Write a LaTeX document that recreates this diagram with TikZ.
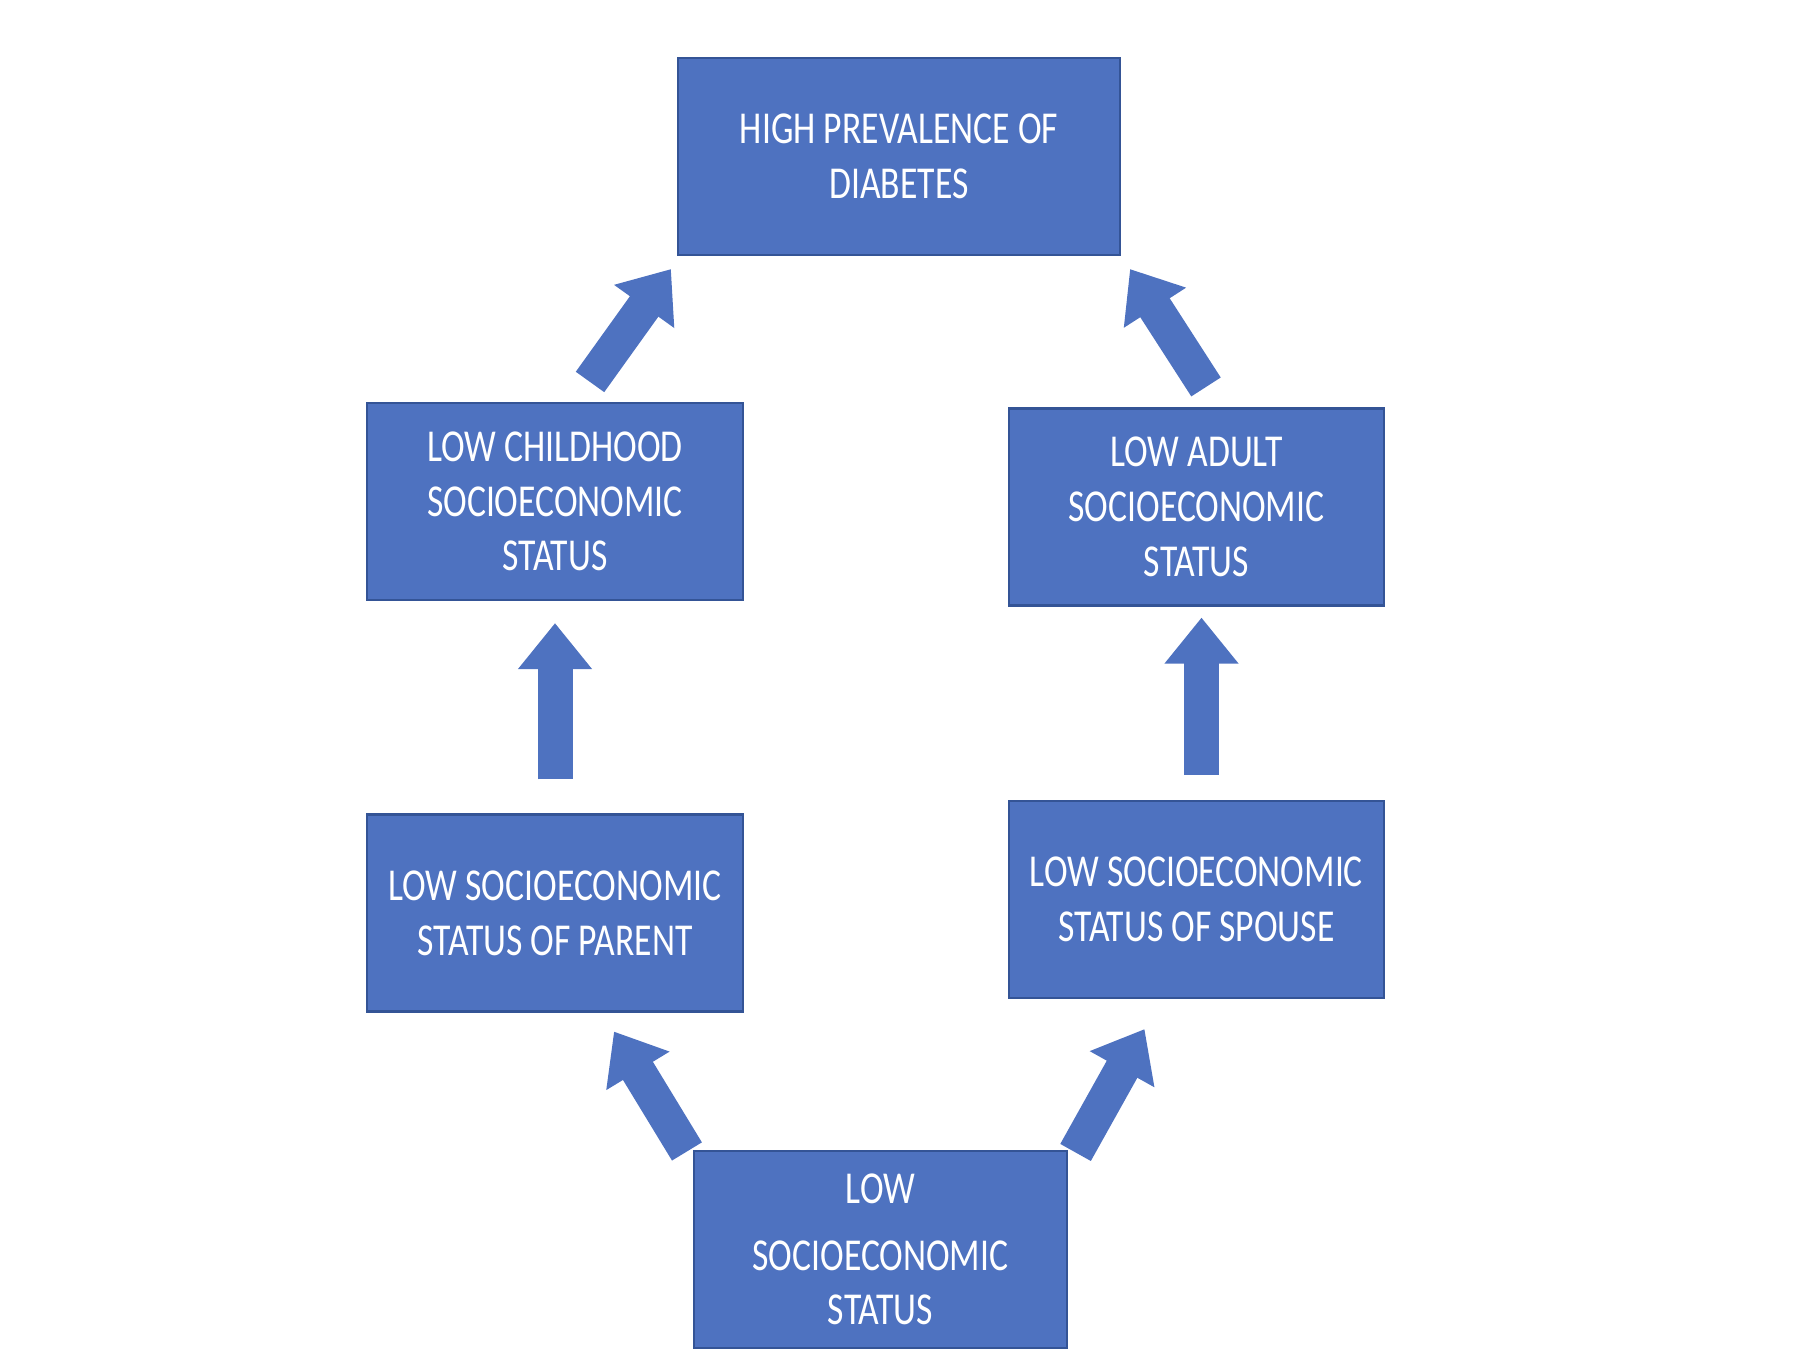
\documentclass[tikz,border=0pt]{standalone}
\usepackage{fontspec}
\usetikzlibrary{arrows.meta}
\newfontfamily\boxfont{Carlito}[FakeStretch=0.78]
\definecolor{boxblue}{RGB}{78,114,192}
\definecolor{boxedge}{RGB}{52,84,150}
\tikzset{
	statusbox/.style={draw=boxedge, line width=0.6pt, fill=boxblue, text=white, align=center, inner sep=0pt, minimum width=3.76cm, minimum height=1.97cm, font=\boxfont\fontsize{13}{15.6}\selectfont},
	blockarrow/.style={draw=boxblue, line width=0.35cm, -{Triangle[width=0.71cm,length=0.46cm]}}
}

\begin{document}
\begin{tikzpicture}[x=0.1mm, y=-0.1mm]
			\useasboundingbox (0,0) rectangle (1794,1364);
			
			\node[statusbox, minimum width=4.42cm] at (899,156.5) (diabetes){HIGH PREVALENCE OF\\DIABETES};
			\node[statusbox] at (555,501.5) (childhoodStatus){LOW CHILDHOOD\\SOCIOECONOMIC\\STATUS};
			\node[statusbox, minimum width=3.75cm] at (1196.5,507) (adultStatus){LOW ADULT\\SOCIOECONOMIC\\STATUS};
			\node[statusbox, below of=childhoodStatus, node distance=4.115cm] (parentStatus){LOW SOCIOECONOMIC\\STATUS OF PARENT};
			\node[statusbox, minimum width=3.75cm, below of=adultStatus, node distance=3.925cm] (spouseStatus){LOW SOCIOECONOMIC\\STATUS OF SPOUSE};
			\node[statusbox, minimum width=3.73cm] at (880.5,1249.5) (lowStatus){LOW\\[3.4pt]SOCIOECONOMIC\\STATUS};
			
			\draw[blockarrow] ([shift={(-6,1.5)}]lowStatus.north west) -- ([shift={(59,19)}]parentStatus.south);
			\draw[blockarrow] ([shift={(7.5,2.5)}]lowStatus.north east) -- ([shift={(-52,30)}]spouseStatus.south);
			
			\draw[blockarrow] ([yshift=0.34cm]parentStatus.north) -- ([yshift=-0.22cm]childhoodStatus.south);
			\draw[blockarrow] ([shift={(5,-25)}]spouseStatus.north) -- ([shift={(5,11)}]adultStatus.south);
			
			\draw[blockarrow] ([shift={(35,-20)}]childhoodStatus.north) -- ([shift={(-6,13)}]diabetes.south west);
			\draw[blockarrow] ([shift={(9.5,-20.5)}]adultStatus.north) -- ([shift={(9,13)}]diabetes.south east);
		\end{tikzpicture}
\end{document}
